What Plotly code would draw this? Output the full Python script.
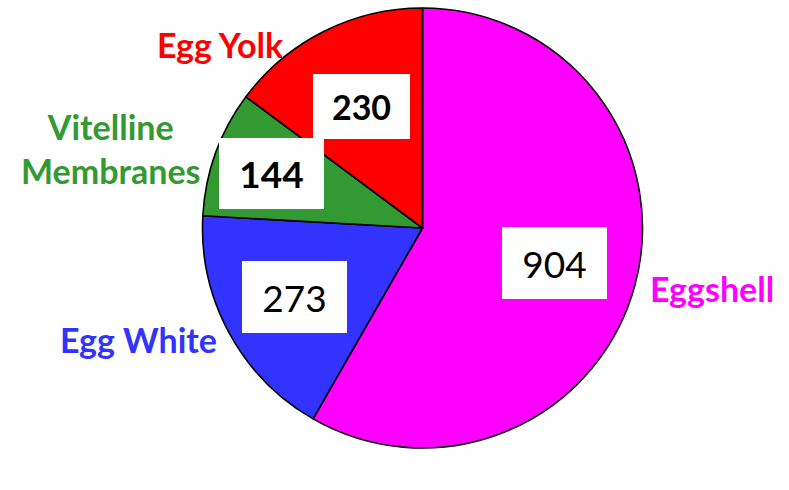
import math
import plotly.graph_objects as go

# Egg compartments and their counts
compartments = ["Eggshell", "Egg White", "Vitelline Membranes", "Egg Yolk"]
counts = [904, 273, 144, 230]
slice_colors = ["#FF00FF", "#3333FF", "#339933", "#FF0000"]
label_text = ["Eggshell", "Egg White", "Vitelline<br>Membranes", "Egg Yolk"]

W, H = 789, 490
CX, CY, R = 422.5, 228.0, 220.0

fig = go.Figure(
    go.Pie(
        labels=compartments,
        values=counts,
        sort=False,
        direction="clockwise",
        rotation=0,
        textinfo="none",
        hoverinfo="label+value",
        marker=dict(colors=slice_colors, line=dict(color="black", width=1.6)),
        domain=dict(
            x=[(CX - R) / W, (CX + R) / W],
            y=[1 - (CY + R) / H, 1 - (CY - R) / H],
        ),
        showlegend=False,
    )
)


def to_paper(px, py):
    return px / W, 1 - py / H


# value boxes: (box width, box height, font size, bold, radial fraction)
box_style = {
    "Eggshell": (105, 72, 37, False, 0.62),
    "Egg White": (105, 72, 37, False, 0.66),
    "Vitelline Membranes": (105, 71, 37, True, 0.73),
    "Egg Yolk": (97, 65, 34, True, 0.62),
}

LABEL_SIZE = 34
GAP = 14

total = sum(counts)
before = 0
annotations = []
for name, val, col, txt in zip(compartments, counts, slice_colors, label_text):
    mid = math.radians(360 * (before + val / 2) / total)
    before += val
    s, c = math.sin(mid), math.cos(mid)

    # white value box inside the slice
    bw, bh, fs, bold, frac = box_style[name]
    bx, by = to_paper(CX + frac * R * s, CY - frac * R * c)
    annotations.append(dict(
        x=bx, y=by, xref="paper", yref="paper",
        text=f"<b>{val}</b>" if bold else str(val),
        showarrow=False, xanchor="center", yanchor="middle",
        width=bw, height=bh, valign="middle", align="center",
        bgcolor="white", borderpad=0, borderwidth=0,
        font=dict(family="Lato", size=fs, color="black"),
    ))

    # compartment name outside the pie, kept inside the canvas
    ly = CY - (R + GAP) * c
    ly = min(max(ly, 45), H - 25)
    if abs(s) > 0.3:
        half = math.sqrt(max(R * R - (ly - CY) ** 2, 0.0)) + GAP
        lx = CX + half if s > 0 else CX - half
        xa = "left" if s > 0 else "right"
        ya = "middle"
    else:
        lx = CX + (R + GAP) * s
        xa = "center"
        ya = "bottom" if c > 0 else "top"
    px, py = to_paper(lx, ly)
    annotations.append(dict(
        x=px, y=py, xref="paper", yref="paper",
        text=f"<b>{txt}</b>", showarrow=False,
        xanchor=xa, yanchor=ya, align="center",
        font=dict(family="Lato", size=LABEL_SIZE, color=col),
    ))

fig.update_layout(
    width=W, height=H,
    margin=dict(l=0, r=0, t=0, b=0),
    paper_bgcolor="white", plot_bgcolor="white",
    annotations=annotations,
)

fig.write_html("out.html")
